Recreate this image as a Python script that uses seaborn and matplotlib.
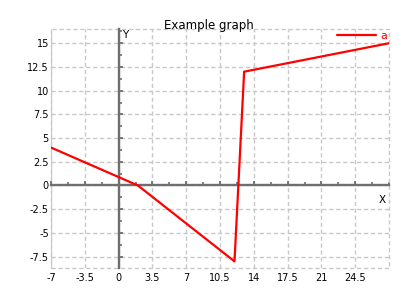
import matplotlib
matplotlib.use('Agg')
import matplotlib.pyplot as plt
from matplotlib.patches import Rectangle
from matplotlib.ticker import MultipleLocator
import seaborn as sns
import pandas as pd

# ---- data ----
x_vals = [-7, 2, 12, 13, 28]
y_vals = [4, 0, -8, 12, 15]
series_name = 'a'
title = 'Example graph'
x_ticks = [-7, -3.5, 0, 3.5, 7, 10.5, 14, 17.5, 21, 24.5]
x_tick_labels = ['-7', '-3.5', '0', '3.5', '7', '10.5', '14', '17.5', '21', '24.5']
y_ticks = [-7.5, -5, -2.5, 0, 2.5, 5, 7.5, 10, 12.5, 15]
y_tick_labels = ['-7.5', '-5', '-2.5', '0', '2.5', '5', '7.5', '10', '12.5', '15']
x_limits = (-7, 28)
y_limits = (-8.7, 16.5)

sns.set_style('white')
plt.rcParams['font.family'] = ['DejaVu Sans']
plt.rcParams['text.color'] = 'black'

fig = plt.figure(figsize=(4.2, 3.02), dpi=100)
W, H = 420, 302
ax = fig.add_axes([51 / W, 34 / H, 338 / W, 239 / H])
ax.set_facecolor('white')

df = pd.DataFrame({'x': x_vals, 'y': y_vals, 'series': series_name})
sns.lineplot(data=df, x='x', y='y', hue='series', palette=['#ff0000'],
             sort=False, linewidth=1.6, ax=ax, zorder=3)

ax.set_xlim(*x_limits)
ax.set_ylim(*y_limits)
ax.set_xlabel('')
ax.set_ylabel('')

# grid
ax.set_xticks(x_ticks)
ax.set_yticks(y_ticks)
ax.set_axisbelow(True)
ax.grid(True, color='#c8c8c8', linestyle=(0, (3, 2)), linewidth=1)

# center axes through origin
ax_col = '#6e6e6e'
for s in ['top', 'right']:
    ax.spines[s].set_visible(False)
ax.spines['left'].set_position(('data', 0))
ax.spines['bottom'].set_position(('data', 0))
for s in ['left', 'bottom']:
    ax.spines[s].set_color(ax_col)
    ax.spines[s].set_linewidth(1.7)
    ax.spines[s].set_zorder(2.6)
ax.xaxis.set_minor_locator(MultipleLocator(1.75))
ax.yaxis.set_minor_locator(MultipleLocator(1.25))
ax.tick_params(which='major', direction='in', length=3, width=1.3, color=ax_col,
               labelbottom=False, labelleft=False)
ax.tick_params(which='minor', direction='in', length=2, width=1.2, color=ax_col)
ax.tick_params(axis='x', which='both', bottom=True)
ax.tick_params(axis='y', which='both', left=True)

# dashed frame
ax.add_patch(Rectangle((0, 0), 1, 1, transform=ax.transAxes, fill=False,
                       edgecolor='#c8c8c8', linestyle=(0, (3, 2)), linewidth=1,
                       clip_on=False, zorder=1))

# tick labels at frame edges
secx = ax.secondary_xaxis(0.0)
secx.set_xticks(x_ticks)
secx.set_xticklabels(x_tick_labels)
secx.tick_params(length=0, labelsize=7, pad=3.5, labelcolor='black')
secx.spines['bottom'].set_visible(False)
secy = ax.secondary_yaxis(0.0)
secy.set_yticks(y_ticks)
secy.set_yticklabels(y_tick_labels)
secy.tick_params(length=0, labelsize=7, pad=1.5, labelcolor='black')
secy.spines['left'].set_visible(False)

# axis names
ax.annotate('X', xy=(1, 0), xycoords=('axes fraction', 'data'),
            xytext=(-3, -15), textcoords='offset pixels',
            ha='right', va='center', fontsize=7.5, color='black')
ax.annotate('Y', xy=(0, 1), xycoords=('data', 'axes fraction'),
            xytext=(3, -6), textcoords='offset pixels',
            ha='left', va='center', fontsize=7.5, color='black')

# legend
leg = ax.legend(loc='upper right', bbox_to_anchor=(1.0, 1.0), frameon=False,
                borderaxespad=0, borderpad=0.15, handlelength=3.5,
                handletextpad=0.4, fontsize=8, labelcolor='#ff0000')

# title
fig.text(209 / W, 1 - 29.5 / H, title, ha='center', va='baseline',
         fontsize=8.5, color='black')

fig.savefig('out.png', dpi=100)
